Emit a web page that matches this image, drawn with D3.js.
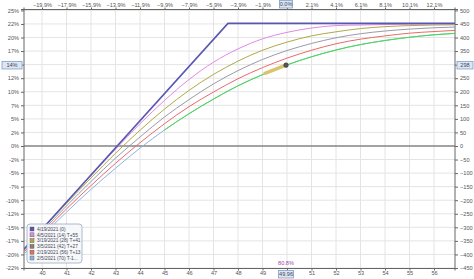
<!DOCTYPE html>
<html>
<head>
<meta charset="utf-8">
<script src="https://cdn.jsdelivr.net/npm/d3@7"></script>
<style>
  body { margin: 0; background: #fff; }
  text { font-family: "Liberation Sans", Arial, sans-serif; }
</style>
</head>
<body>
<div id="viz"></div>
<script>
// underlying prices used for the T+ curves
const prices = [39, 40, 41, 42, 43, 44, 45, 46, 47, 48, 49, 50, 51, 52, 53, 54, 55, 56, 57];

// expiration payoff (4/19/2021)
const expPrices = [39, 47.59, 57];
const expPnl = [-407, 452, 452];

// T+ curves
const pnlT55 = [-407, -307, -207, -109, -12, 82, 168, 245, 309, 358, 395, 419, 435, 444, 446, 448, 449, 450, 450];
const pnlT41 = [-408, -309, -212, -118, -27, 58, 136, 205, 264, 313, 353, 383, 406, 421, 433, 440, 444, 446, 447];
const pnlT27 = [-411, -315, -221, -131, -45, 33, 107, 171, 229, 278, 319, 352, 378, 399, 414, 424, 431, 436, 439];
const pnlT13 = [-416, -323, -232, -146, -64, 12, 82, 145, 199, 248, 289, 324, 353, 377, 394, 406, 416, 422, 427];
const pnlTm1 = [-423, -332, -244, -160, -82, -8, 59, 119, 173, 222, 263, 299, 329, 354, 374, 389, 401, 410, 416];

// today's line (green), right part
const todayPrices = [45, 46, 47, 48, 49, 50, 51, 52, 53, 54, 55, 56, 57];
const todayPnl = [59, 119, 173, 222, 263, 299, 329, 354, 374, 389, 401, 410, 416];

const legendLabels = ["4/19/2021 (0)", "4/5/2021 (14) T+55", "3/19/2021 (28) T+41",
  "3/5/2021 (42) T+27", "2/19/2021 (56) T+13", "2/5/2021 (70) T-1..."];
const legendColors = ["#5858b0", "#e088e8", "#b0a848", "#8a7f70", "#e86a6a", "#8ab4e0"];

const xTicks = d3.range(40, 57);
const yTicks = d3.range(-450, 501, 50);

const currentPrice = 49.96;
const currentPnl = 298;
const probText = "80.8%";

const width = 474, height = 279;
const pl = 24, pr = 455, pt = 9.5, pb = 268.5;
const fs = "5.6px";

const svg = d3.select("#viz").append("svg")
  .attr("width", width)
  .attr("height", height);

const x = d3.scaleLinear().domain([40, 56]).range([42, 434]);
const y = d3.scaleLinear().domain([-450, 500]).range([268, 10.4]);

svg.append("defs").append("clipPath").attr("id", "clip")
  .append("rect").attr("x", pl).attr("y", pt)
  .attr("width", pr - pl).attr("height", pb - pt);

// grid
svg.append("g").selectAll("line")
  .data(xTicks).join("line")
  .attr("x1", d => x(d)).attr("x2", d => x(d))
  .attr("y1", pt).attr("y2", pb)
  .attr("stroke", "#e4e4e4").attr("stroke-width", 1);

svg.append("g").selectAll("line")
  .data(yTicks).join("line")
  .attr("x1", pl).attr("x2", pr)
  .attr("y1", d => y(d)).attr("y2", d => y(d))
  .attr("stroke", "#e4e4e4").attr("stroke-width", 1);

// zero line
svg.append("line")
  .attr("x1", pl).attr("x2", pr)
  .attr("y1", y(0)).attr("y2", y(0))
  .attr("stroke", "#555").attr("stroke-width", 1.2);

// axes (tick at the current price is covered by the crosshair label)
const hidden = d => Math.abs(d - currentPrice) < 0.5;
const yLeft = d3.axisLeft(y).tickValues(yTicks).tickSize(3).tickPadding(2)
  .tickFormat(d => Math.trunc(d / 20) + "%");
const yRight = d3.axisRight(y).tickValues(yTicks).tickSize(3).tickPadding(2);
const xBottom = d3.axisBottom(x).tickValues(xTicks).tickSize(2).tickPadding(1)
  .tickFormat(d => hidden(d) ? "" : d3.format("d")(d));
const xTop = d3.axisTop(x).tickValues(xTicks).tickSize(2).tickPadding(1)
  .tickFormat(d => hidden(d) ? "" : d3.format(".1f")((d / currentPrice - 1) * 100) + "%");

function styleAxis(g) {
  g.select(".domain").attr("stroke", "#666");
  g.selectAll(".tick line").attr("stroke", "#666");
  g.selectAll("text").attr("fill", "#555").style("font-size", fs);
}

svg.append("g").attr("transform", `translate(${pl},0)`).call(yLeft).call(styleAxis)
  .call(g => g.select(".domain").attr("d", `M-3,${pt}H0V${pb}H-3`));
svg.append("g").attr("transform", `translate(${pr},0)`).call(yRight).call(styleAxis)
  .call(g => g.select(".domain").attr("d", `M3,${pt}H0V${pb}H3`));
svg.append("g").attr("transform", `translate(0,${pb})`).call(xBottom).call(styleAxis)
  .call(g => g.select(".domain").attr("d", `M${pl},2V0H${pr}V2`));
svg.append("g").attr("transform", `translate(0,${pt})`).call(xTop).call(styleAxis)
  .call(g => g.select(".domain").attr("d", `M${pl},-2V0H${pr}V-2`));

// curves
const plot = svg.append("g").attr("clip-path", "url(#clip)");
const line = d3.line().x(d => x(d[0])).y(d => y(d[1])).curve(d3.curveMonotoneX);

const series = [
  { vals: pnlTm1, color: legendColors[5] },
  { vals: pnlT13, color: legendColors[4] },
  { vals: pnlT27, color: "#9a9aa8" },
  { vals: pnlT41, color: legendColors[2] },
  { vals: pnlT55, color: legendColors[1] }
];

plot.selectAll(".tline")
  .data(series).join("path")
  .attr("class", "tline")
  .attr("d", s => line(prices.map((p, i) => [p, s.vals[i]])))
  .attr("fill", "none")
  .attr("stroke", s => s.color)
  .attr("stroke-width", 1);

plot.append("path")
  .attr("d", line(todayPrices.map((p, i) => [p, todayPnl[i]])))
  .attr("fill", "none").attr("stroke", "#48dc48").attr("stroke-width", 1);

plot.append("path")
  .attr("d", d3.line().x(d => x(d[0])).y(d => y(d[1]))(expPrices.map((p, i) => [p, expPnl[i]])))
  .attr("fill", "none").attr("stroke", legendColors[0]).attr("stroke-width", 1.6);

// current position marker
const segStart = 49.1;
plot.append("line")
  .attr("x1", x(segStart)).attr("y1", y(268))
  .attr("x2", x(currentPrice)).attr("y2", y(currentPnl))
  .attr("stroke", "#d8c470").attr("stroke-width", 3.5).attr("stroke-linecap", "round");
plot.append("circle")
  .attr("cx", x(currentPrice)).attr("cy", y(currentPnl)).attr("r", 2.3)
  .attr("fill", "#555").attr("stroke", "#333").attr("stroke-width", 0.5);

svg.append("text")
  .attr("x", x(currentPrice)).attr("y", 265)
  .attr("text-anchor", "middle")
  .style("font-size", fs).attr("fill", "#9a4aa8")
  .text(probText);

// legend
const lg = svg.append("g").attr("transform", "translate(27,224)");
lg.append("rect").attr("width", 55).attr("height", 39).attr("rx", 3)
  .attr("fill", "rgba(245,247,250,0.92)").attr("stroke", "#9aaac0").attr("stroke-width", 0.8);
const rows = lg.selectAll(".row").data(legendLabels).join("g")
  .attr("transform", (d, i) => `translate(3,${5 + i * 5.8})`);
rows.append("rect").attr("x", 0).attr("y", -2).attr("width", 4).attr("height", 4)
  .attr("fill", (d, i) => legendColors[i]).attr("stroke", "#555").attr("stroke-width", 0.4);
rows.append("text").attr("x", 7).attr("y", 1.8)
  .style("font-size", "4.8px").attr("fill", "#445")
  .text(d => d);

// crosshair labels
function hiLabel(cx, cy, w, txt, anchor) {
  const gx = svg.append("g");
  let rx = anchor === "start" ? cx : anchor === "end" ? cx - w : cx - w / 2;
  gx.append("rect").attr("x", rx).attr("y", cy - 3.8).attr("width", w).attr("height", 7.6)
    .attr("fill", "#dde7f4").attr("stroke", "#7f9fcb").attr("stroke-width", 0.8);
  gx.append("text").attr("x", rx + w / 2).attr("y", cy + 2)
    .attr("text-anchor", "middle").style("font-size", fs).attr("fill", "#445")
    .text(txt);
}
hiLabel(x(currentPrice), 4.2, 13, "0.0%", "middle");
hiLabel(x(currentPrice), 274.2, 15, d3.format(".2f")(currentPrice), "middle");
hiLabel(2, y(currentPnl), 20, Math.trunc(currentPnl / 20) + "%", "start");
hiLabel(457, y(currentPnl), 16, String(currentPnl), "start");
</script>
</body>
</html>
